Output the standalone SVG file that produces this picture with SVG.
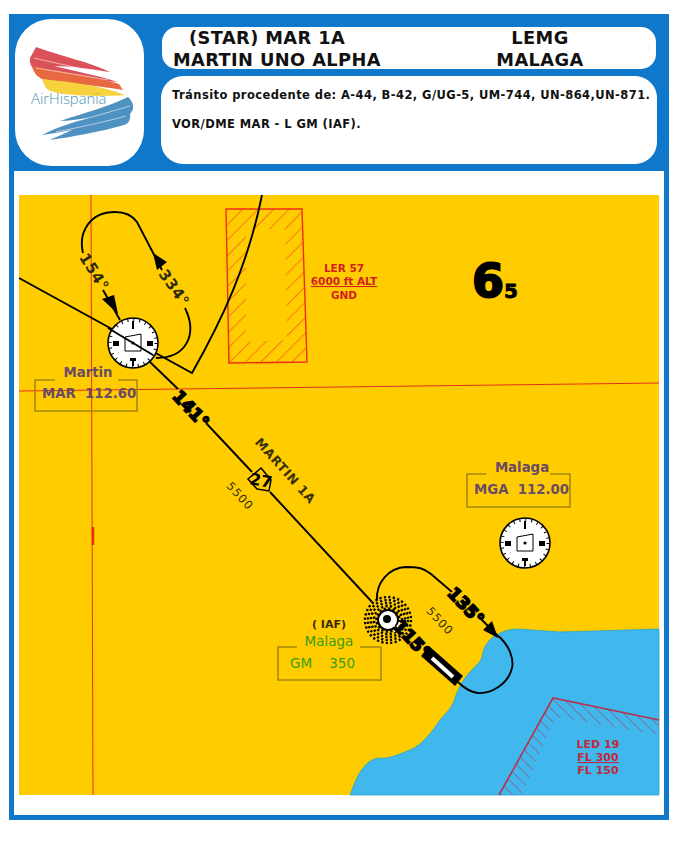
<svg xmlns="http://www.w3.org/2000/svg" width="680" height="850" viewBox="0 0 680 850">
<style>
text{font-family:"DejaVu Sans","Liberation Sans",sans-serif}
.h{font-size:17.800px;font-weight:700;fill:#111;letter-spacing:.4px}
.i{font-size:11.500px;font-weight:700;fill:#111;letter-spacing:.42px}
.rt{fill:none;stroke:#000;stroke-width:1.900}
.th{fill:none;stroke:#000;stroke-width:1.500}
.deg{font-size:17px;font-weight:700;fill:#000;stroke:#000;stroke-width:1.700;text-anchor:middle}
.hd{font-size:15px;font-weight:700;fill:#2e2a10;text-anchor:middle;letter-spacing:.6px}
.lb{font-size:12.500px;font-weight:700;fill:#3b3008;text-anchor:middle;letter-spacing:.6px}
.al{font-size:11.500px;font-weight:400;fill:#2e2a10;text-anchor:middle;letter-spacing:1px}
.nm{font-size:13.300px;font-weight:700;fill:#6a4b66}
.bx{fill:none;stroke:#a8860f;stroke-width:1.600}
.red{font-size:10.500px;font-weight:700;fill:#d21f1f;text-anchor:middle}
.led{font-size:11px;font-weight:700;fill:#c02a3c;text-anchor:middle}
.gr{font-size:13.500px;fill:#3c9c12}
</style>
<defs>
<pattern id="h1" width="11" height="11" patternUnits="userSpaceOnUse" patternTransform="rotate(45)"><line x1="0" y1="0" x2="0" y2="11" stroke="#ef2b1a" stroke-width="1"/></pattern>
<pattern id="h2" width="8" height="8" patternUnits="userSpaceOnUse" patternTransform="rotate(-45)"><line x1="0" y1="0" x2="0" y2="8" stroke="#b8304c" stroke-width="1"/></pattern>
<g id="vor">
<circle r="25" fill="#fff" stroke="#000" stroke-width="1.600"/>
<circle r="23" fill="none" stroke="#000" stroke-width="3" stroke-dasharray="1 5"/>
<path d="M-1 -22h2v8h-2zM-20 -2h6v5h-6zM14 -2h6v5h-6zM-3 15h6v3h-6zM-1 18h2v5h-2z" fill="#000"/>
<path d="M-8 -6L8 -9V8H-8Z" fill="#fff" stroke="#000" stroke-width="1"/>
<circle r="1.600" fill="#000"/>
</g>
</defs>
<rect x="11.500" y="16.500" width="655" height="801" fill="#fff" stroke="#0f78cb" stroke-width="5"/>
<rect x="9" y="14" width="660" height="157" fill="#0f78cb"/>
<g id="logo">
<rect x="15" y="19" width="129" height="147" rx="36" fill="#fff"/>
<path d="M36 47C60 56 90 62 110 72C90 69 70 66 54 66C70 70 96 75 118 82C95 80 60 77 36 72C31 67 29 62 30 58Z" fill="#d9525a"/>
<path d="M32 66C60 72 95 76 119 84L123 90C95 85 60 83 42 79C36 76 33 71 32 66Z" fill="#e8683f"/>
<path d="M42 79C70 82 100 85 125 95C100 97 60 96 48 90C45 87 43 83 42 79Z" fill="#f6d23f"/>
<path d="M34 58C55 63 75 67 100 73M36 68C60 72 85 76 108 80" fill="none" stroke="#fff" stroke-width=".8" opacity=".7"/>
<path d="M128 97C135 103 134 110 130 114C131 120 128 124 124 125C100 132 70 137 50 140C60 135 64 134 72 130C60 132 50 134 42 135C60 126 74 122 88 118C78 119 68 121 60 121C84 113 110 106 128 97Z" fill="#4f92c2"/>
<path d="M62 125C85 119 110 112 130 106M56 132C80 127 105 122 126 116" fill="none" stroke="#fff" stroke-width=".8" opacity=".7"/>
<text x="31" y="104" style="font-family:'Open Sans',sans-serif;font-weight:300;font-size:14.800px;fill:#4d93ad">AirHispania</text>
</g>
<g id="title">
<rect x="162" y="27" width="494" height="42" rx="15" fill="#fff"/>
<text class="h" x="189" y="44">(STAR) MAR 1A</text>
<text class="h" x="173" y="66">MARTIN UNO ALPHA</text>
<text class="h" x="540" y="44" text-anchor="middle">LEMG</text>
<text class="h" x="540" y="66" text-anchor="middle">MALAGA</text>
</g>
<g id="info">
<rect x="161" y="76" width="496" height="88" rx="22" fill="#fff"/>
<text class="i" x="172" y="99">Tránsito procedente de: A-44, B-42, G/UG-5, UM-744, UN-864,UN-871.</text>
<text class="i" x="172" y="128">VOR/DME MAR - L GM (IAF).</text>
</g>
<g id="chart">
<rect x="19" y="195" width="640" height="600" fill="#ffcc00"/>
<path d="M350 795C354 785 358 773 364 767C368 761 375 758 380 758C388 759 395 756 410 750C422 745 432 732 440 720C447 712 452 708 455 698C458 690 462 680 472 670C477 664 482 662 483 652C485 645 490 638 497 635C503 631 510 629 518 629L560 632L659 629V795Z" fill="#40b8ee" stroke="#2aa3c8" stroke-width=".8"/>
</g>
<g id="zone-ler57">
<path fill-rule="evenodd" d="M226 209H302L307 362L229 363ZM246 229L246 342L287 340L285 229Z" fill="url(#h1)"/>
<path d="M226 209H302L307 362L229 363Z" fill="none" stroke="#ef2b1a" stroke-width="1.400"/>
<text class="red" x="344" y="272">LER 57</text>
<text class="red" x="344" y="285" text-decoration="underline">6000 ft ALT</text>
<text class="red" x="344" y="299">GND</text>
</g>
<g id="zone-led19">
<path d="M499 795L553 698L659 720V735L555 717L522 795Z" fill="url(#h2)"/>
<path d="M499 795L553 698L659 720" fill="none" stroke="#b8304c" stroke-width="1.600"/>
<text class="led" x="598" y="748">LED 19</text>
<text class="led" x="598" y="761" text-decoration="underline">FL 300</text>
<text class="led" x="598" y="774">FL 150</text>
</g>
<g id="grid" fill="none" stroke="#e8301a" stroke-width="1">
<path d="M91 195L93 795"/>
<path d="M19 391L659 383"/>
<path d="M93 527V545" stroke-width="2.500"/>
</g>
<g id="connectors">
<path class="rt" d="M19 278L192 373C222 320 248 265 262 195"/>
<path class="rt" d="M120 320L103 290"/>
<path class="rt" d="M83 253C78 232 90 212 115 212C124 212 132 215 137 222L162 270"/>
<path class="rt" d="M185 308C198 335 186 358 156 358"/>
<path d="M118 314L102 299L114 295Z" fill="#000"/>
<path d="M153 253L167 262L157 270Z" fill="#000"/>
<path class="rt" d="M150 362L178 389"/>
<path class="rt" d="M206 423L252 472"/>
<path class="rt" d="M270 492L372 602"/>
<path class="rt" d="M377 600A30 31 0 0 1 406 567C418 567 424 568 431 574L452 592"/>
<path class="rt" d="M478 616L497 635C510 645 514 660 512 668C508 685 490 694 478 693C470 692 464 688 458 682"/>
<path d="M498 638L483 630L492 621Z" fill="#000"/>
<path class="th" d="M261 468L271 480L269 491L257 489L248 479Z"/>
</g>
<g id="vor-martin" transform="translate(133 343)"><use href="#vor"/><path d="M-25 -15L20 12" stroke="#000" stroke-width="2"/></g>
<g id="vor-malaga" transform="translate(525 543)"><use href="#vor"/></g>
<g id="ndb-malaga" transform="translate(388 620)">
<g fill="none" stroke="#000" stroke-width="2.400" stroke-dasharray="2.200 2.300">
<circle r="23"/><circle r="20"/><circle r="17"/><circle r="14"/><circle r="11.500"/>
</g>
<circle r="10" fill="#fff" stroke="#000" stroke-width="2"/>
<circle cx="-1" cy="-1" r="4" fill="#000"/>
<path d="M5 5L14 11M12 2L6 12" stroke="#fff" stroke-width="1.500"/>
</g>
<g id="runway">
<path d="M421 656L429 646L463 676L455 686Z" fill="#000"/>
<path d="M432 658L453 677" stroke="#fff" stroke-width="4"/>
</g>
<g id="labels">
<text class="hd" transform="translate(94 272) rotate(58)" y="5">154°</text>
<text class="hd" transform="translate(174 288) rotate(55)" y="5">334°</text>
<text class="deg" transform="translate(191 409) rotate(47)" y="6">141°</text>
<text class="deg" transform="translate(466 606) rotate(47)" y="6">135°</text>
<text class="deg" transform="translate(412 639) rotate(47)" y="6">115°</text>
<text class="lb" transform="translate(285 471) rotate(48)" y="4">MARTIN 1A</text>
<text class="al" transform="translate(240 496) rotate(47)" y="4">5500</text>
<text class="al" transform="translate(440 621) rotate(47)" y="4">5500</text>
<text transform="translate(260 486) rotate(10)" style="font-size:16px;font-weight:700;fill:#000;text-anchor:middle">27</text>
<text x="472" y="297" style="font-size:46px;font-weight:700;fill:#000;stroke:#000;stroke-width:2">6</text>
<text x="504" y="298" style="font-size:20px;font-weight:700;fill:#000;stroke:#000;stroke-width:.8">5</text>
</g>
<g id="box-martin">
<path class="bx" d="M55 380H35V411H137V380H118"/>
<text class="nm" x="88" y="377" text-anchor="middle">Martin</text>
<text class="nm" x="42" y="398" xml:space="preserve">MAR  112.60</text>
</g>
<g id="box-mga">
<path class="bx" d="M486 474H467V507H570V474H550"/>
<text class="nm" x="522" y="472" text-anchor="middle">Malaga</text>
<text class="nm" x="474" y="494" xml:space="preserve">MGA  112.00</text>
</g>
<g id="box-gm">
<path class="bx" d="M297 647H278V680H381V647H360"/>
<text x="329" y="628" style="font-size:11px;font-weight:700;fill:#3a2a10;text-anchor:middle">( IAF)</text>
<text class="gr" x="329" y="646" text-anchor="middle">Malaga</text>
<text class="gr" x="290" y="668" xml:space="preserve">GM    350</text>
</g>
</svg>
